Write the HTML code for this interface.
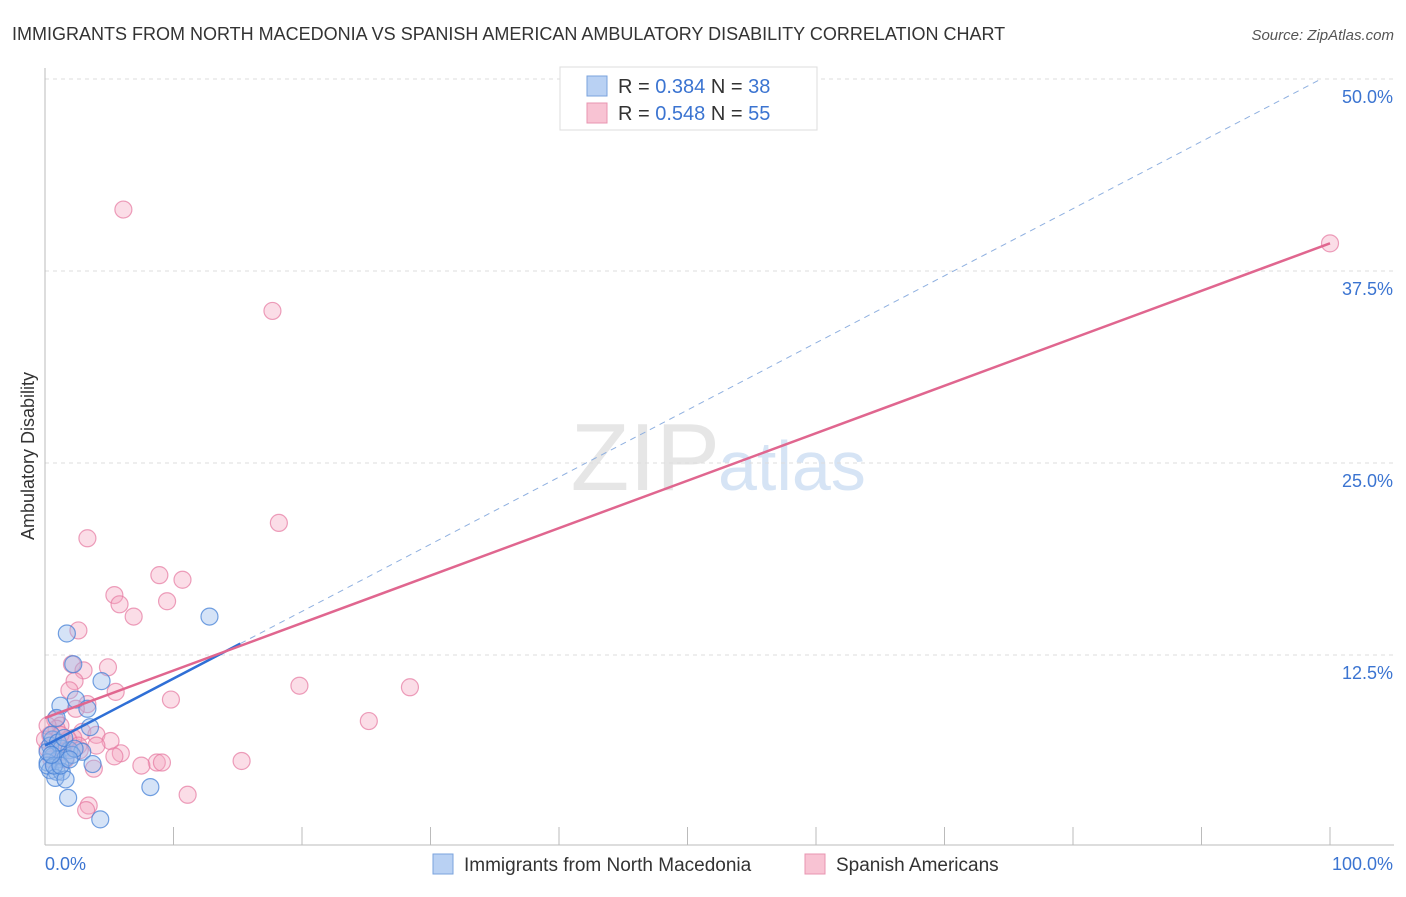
<!DOCTYPE html>
<html><head><meta charset="utf-8"><style>
body{margin:0;background:#fff;font-family:"Liberation Sans",sans-serif}
svg text{font-family:"Liberation Sans",sans-serif}
</style></head><body>
<svg width="1406" height="892">
<text x="12" y="40" font-size="18" fill="#333">IMMIGRANTS FROM NORTH MACEDONIA VS SPANISH AMERICAN AMBULATORY DISABILITY CORRELATION CHART</text>
<text x="1394" y="40" font-size="15" fill="#555" text-anchor="end" font-style="italic">Source: ZipAtlas.com</text>
<text x="720" y="490" font-size="96" fill="#e6e6e6" text-anchor="end" font-family="Liberation Serif">ZIP</text>
<text x="718" y="490" font-size="70" fill="#d6e4f5">atlas</text>
<g id="grid"></g><g id="axes"></g><g id="marks"></g><g id="lines"></g>
<text transform="translate(34,456) rotate(-90)" font-size="18" fill="#333" text-anchor="middle">Ambulatory Disability</text>
<g>
<rect x="560" y="67" width="257" height="63" fill="#fff" stroke="#ddd"/>
<rect x="587" y="76" width="20" height="20" fill="#b9d1f3" stroke="#7aa3de"/>
<rect x="587" y="103" width="20" height="20" fill="#f8c3d3" stroke="#e895b0"/>
<text x="618" y="93" font-size="20" fill="#333">R = <tspan fill="#3b74d1">0.384</tspan>   N = <tspan fill="#3b74d1">38</tspan></text>
<text x="618" y="120" font-size="20" fill="#333">R = <tspan fill="#3b74d1">0.548</tspan>   N = <tspan fill="#3b74d1">55</tspan></text>
</g>
<g>
<rect x="433" y="854" width="20" height="20" fill="#b9d1f3" stroke="#7aa3de"/>
<text x="464" y="871" font-size="19" fill="#333">Immigrants from North Macedonia</text>
<rect x="805" y="854" width="20" height="20" fill="#f8c3d3" stroke="#e895b0"/>
<text x="836" y="871" font-size="19" fill="#333">Spanish Americans</text>
</g>
</svg>
<script>
const yTicks=[12.5,25,37.5,50];
const yTickLabels=["12.5%","25.0%","37.5%","50.0%"];
const xTickLabels=["0.0%","100.0%"];
const blueX=[1.7,12.8,2.2,4.4,1.2,2.4,0.9,3.5,0.6,0.4,1.3,1.9,2.9,0.6,1.0,0.2,1.6,2.1,3.7,0.4,0.9,1.3,0.2,0.8,1.6,1.8,8.2,4.3,0.5,1.0,1.5,3.3,2.3,0.2,0.7,1.2,0.5,1.9];
const blueY=[13.9,15.0,11.9,10.8,9.2,9.6,8.4,7.8,7.0,6.6,6.4,6.3,6.2,5.9,5.7,5.5,5.8,6.0,5.4,5.0,4.9,4.9,5.3,4.5,4.4,3.2,3.9,1.8,7.3,6.8,7.1,9.0,6.4,6.2,5.3,5.3,6.0,5.7];
const pinkX=[6.1,17.7,18.2,3.3,8.9,10.7,5.4,5.8,9.5,6.9,2.6,2.1,3.0,4.9,2.3,1.9,5.5,9.8,19.8,28.4,3.3,2.4,25.2,0.8,1.2,2.9,4.0,5.1,4.0,5.9,5.4,8.7,9.1,15.3,7.5,3.8,11.1,3.4,3.2,0.4,1.0,1.6,2.2,0.2,1.3,0.9,1.8,0.5,2.6,1.6,0.0,100,0.2,2.7,1.2];
const pinkY=[41.5,34.9,21.1,20.1,17.7,17.4,16.4,15.8,16.0,15.0,14.1,11.9,11.5,11.7,10.8,10.2,10.1,9.6,10.5,10.4,9.3,9.0,8.2,8.3,7.9,7.5,7.3,6.9,6.6,6.1,5.9,5.5,5.5,5.6,5.3,5.1,3.4,2.7,2.4,7.3,6.6,6.8,7.1,6.4,6.2,7.7,7.0,5.7,6.6,5.7,7.0,39.3,7.9,6.3,7.3];
const blueTrend=[6.6,50.3]; const blueSolidEnd=15.2;
const pinkTrend=[8.4,39.3];
const X0=45,X1=1330,Y0=847,Y50=79;
const sx=v=>X0+(X1-X0)*v/100, sy=v=>Y0-(Y0-Y50)*v/50;
const NS="http://www.w3.org/2000/svg";
function mk(p,t,a){const e=document.createElementNS(NS,t);for(const k in a)e.setAttribute(k,a[k]);p.appendChild(e);return e;}
const grid=document.getElementById('grid'),axes=document.getElementById('axes'),marks=document.getElementById('marks'),lines=document.getElementById('lines');
yTicks.forEach((t,i)=>{
 const g=mk(grid,'line',{x1:X0,x2:1394,y1:sy(t),y2:sy(t),stroke:'#ddd','stroke-dasharray':'4,4'});
 
 
 const tx=mk(axes,'text',{x:1393,y:sy(t)+24,'font-size':18,fill:'#3b74d1','text-anchor':'end'});tx.textContent=yTickLabels[i];
 
 
});
const ax=mk(axes,'line',{x1:X0,x2:1394,y1:Y0-2,y2:Y0-2,stroke:'#bbb'});


const ay=mk(axes,'line',{x1:X0,x2:X0,y1:68,y2:Y0-2,stroke:'#bbb'});


for(let i=1;i<=10;i++){const t=mk(axes,'line',{x1:sx(i*10),x2:sx(i*10),y1:827,y2:Y0-2,stroke:'#bbb'});
 
 }
[[0,'start',45],[100,'end',1393]].forEach((d,i)=>{const t=mk(axes,'text',{x:d[2],y:870,'font-size':18,fill:'#3b74d1','text-anchor':d[1]});t.textContent=xTickLabels[i];
 
 });
pinkX.forEach((x,i)=>{const c=mk(marks,'circle',{cx:sx(x),cy:sy(pinkY[i]),r:8.5,fill:'rgba(245,165,192,0.38)',stroke:'rgba(230,120,160,0.7)','stroke-width':1.2});
 
 });
blueX.forEach((x,i)=>{const c=mk(marks,'circle',{cx:sx(x),cy:sy(blueY[i]),r:8.5,fill:'rgba(150,185,235,0.4)',stroke:'rgba(70,130,215,0.75)','stroke-width':1.2});
 
 });
const by=x=>blueTrend[0]+(blueTrend[1]-blueTrend[0])*x/100;
const bd=mk(lines,'line',{x1:sx(blueSolidEnd),y1:sy(by(blueSolidEnd)),x2:sx(99.2),y2:sy(by(99.2)),stroke:'#8fb0e0','stroke-width':1,'stroke-dasharray':'6,5'});


const bl=mk(lines,'line',{x1:sx(0),y1:sy(by(0)),x2:sx(blueSolidEnd),y2:sy(by(blueSolidEnd)),stroke:'#2f6fd6','stroke-width':2.5});


const pl=mk(lines,'line',{x1:sx(0),y1:sy(pinkTrend[0]),x2:sx(100),y2:sy(pinkTrend[1]),stroke:'#e0668f','stroke-width':2.5});


</script>
</body></html>
